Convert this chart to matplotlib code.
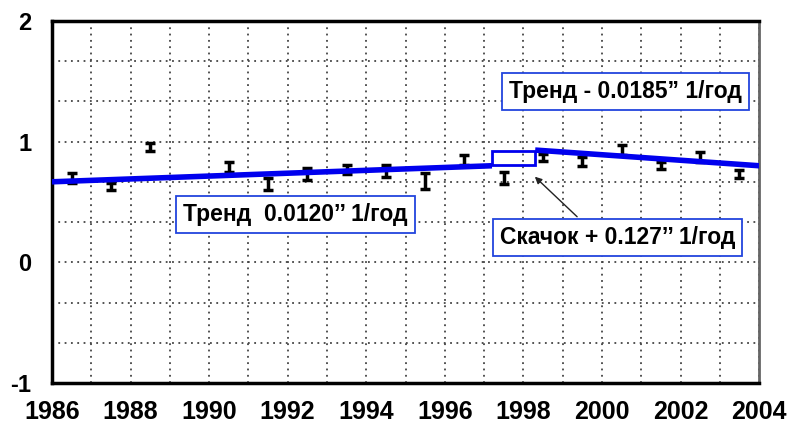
import numpy as np
import matplotlib.pyplot as plt
from matplotlib.patches import Rectangle

plt.rcParams['font.family'] = ['Liberation Sans', 'DejaVu Sans']
plt.rcParams['font.weight'] = 'bold'
plt.rcParams['axes.unicode_minus'] = False

# наблюдения (год, значение, ошибка)
years = [1986.5, 1987.5, 1988.5, 1990.5, 1991.5, 1992.5, 1993.5, 1994.5,
         1995.5, 1996.5, 1997.5, 1998.5, 1999.5, 2000.5, 2001.5, 2002.5, 2003.5]
values = [0.70, 0.63, 0.955, 0.79, 0.65, 0.73, 0.77, 0.76,
          0.675, 0.85, 0.70, 0.87, 0.835, 0.93, 0.80, 0.875, 0.73]
errors = [0.04, 0.03, 0.035, 0.04, 0.05, 0.05, 0.04, 0.05,
          0.065, 0.04, 0.05, 0.03, 0.04, 0.04, 0.03, 0.04, 0.035]

# тренды
trend1_x = [1986.0, 1997.2]
trend1_y = [0.667, 0.80]
trend2_x = [1998.3, 2004.0]
trend2_y = [0.93, 0.80]
jump_x = [1997.2, 1998.3]
jump_y = [0.81, 0.92]

fig = plt.figure(figsize=(7.91, 4.25), dpi=100)
ax = fig.add_axes([0.0657, 0.0988, 0.894, 0.852])

ax.errorbar(years, values, yerr=errors, fmt='none', ecolor='black',
            elinewidth=2.5, capsize=3.5, capthick=2.5, zorder=3)

ax.plot(trend1_x, trend1_y, color='#0000ee', lw=4, solid_capstyle='butt', zorder=4)
ax.plot(trend2_x, trend2_y, color='#0000ee', lw=4, solid_capstyle='butt', zorder=4)
ax.add_patch(Rectangle((jump_x[0], jump_y[0]), jump_x[1] - jump_x[0],
                       jump_y[1] - jump_y[0], fill=False,
                       edgecolor='#0000ee', lw=2, zorder=4))

ax.set_xlim(1986, 2004)
ax.set_ylim(-1, 2)
ax.set_xticks(np.arange(1986, 2005, 2))
ax.set_xticks(np.arange(1986, 2005, 1), minor=True)
ax.set_yticks([-1, 0, 1, 2])
ax.set_yticks(np.arange(-1, 2.01, 1 / 3), minor=True)
ax.tick_params(which='both', length=0)
ax.tick_params(axis='x', labelsize=18, pad=12)
ax.tick_params(axis='y', labelsize=17, pad=15)
for lab in ax.get_xticklabels() + ax.get_yticklabels():
    lab.set_fontweight('bold')

ax.grid(True, which='both', color='#444444', linestyle=(0, (1, 2.5)), lw=1.3)
ax.set_axisbelow(True)

for side in ['left', 'bottom', 'top']:
    ax.spines[side].set_linewidth(2.5)
    ax.spines[side].set_color('black')
ax.spines['right'].set_linewidth(2)
ax.spines['right'].set_color('#666666')

box = dict(boxstyle='square,pad=0.3', facecolor='white', edgecolor='#2244dd', lw=1.3)

ax.text(1992.2, 0.396, 'Тренд  0.0120’’ 1/год', fontsize=16.5, fontweight='bold',
        va='center', ha='center', bbox=box, zorder=5)
ax.text(2000.6, 1.417, 'Тренд - 0.0185” 1/год', fontsize=16.5, fontweight='bold',
        va='center', ha='center', bbox=box, zorder=5)
ax.annotate('Скачок + 0.127’’ 1/год', xy=(1998.24, 0.725), xytext=(2000.4, 0.204),
            fontsize=16.5, fontweight='bold', va='center', ha='center', bbox=box,
            zorder=5,
            arrowprops=dict(arrowstyle='-|>', color='#222222', lw=1,
                            mutation_scale=10, relpos=(0.37, 1.0)))

fig.savefig('out.png', dpi=100)
